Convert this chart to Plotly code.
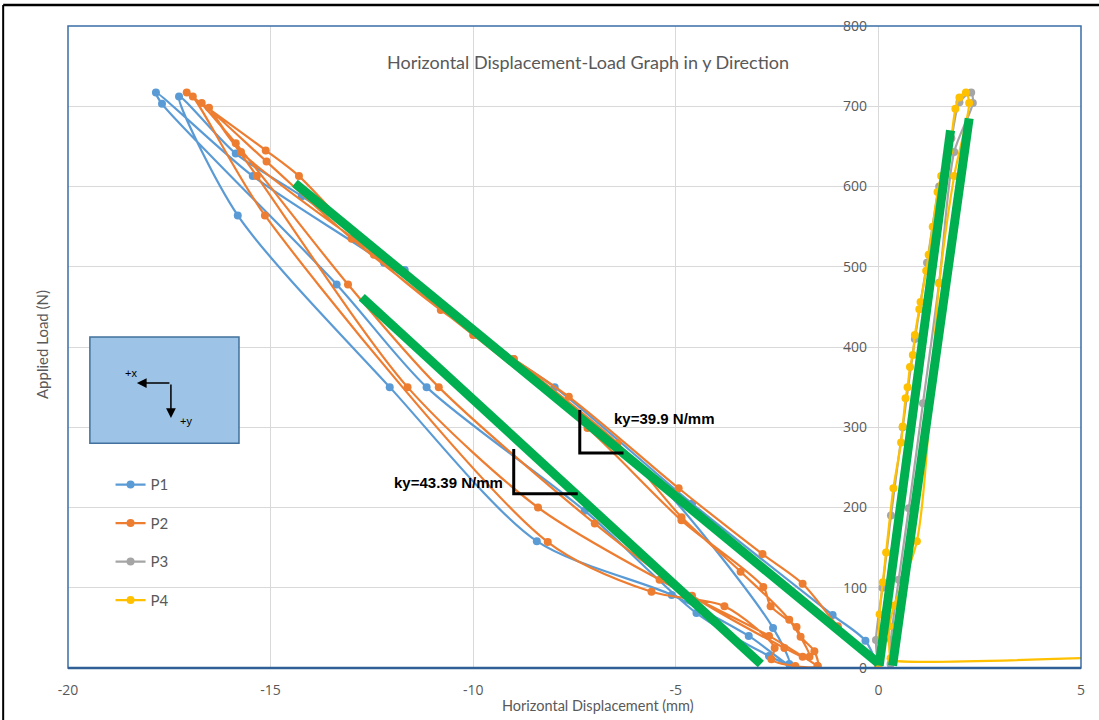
import plotly.graph_objects as go

# ---------------- data ----------------
p1_x = [0, -0.32, -1.13, -4.6, -7.99, -9.91, -11.69, -14.23, -15.86, -17.26,
        -15.81, -12.06, -8.43, -5.10, -3.2, -2.2,
        -2.6, -5.5, -9.0, -12.2, -15.44, -17.83, -17.68,
        -13.37, -11.15, -7.25, -4.49, -2.7, -2.05]
p1_y = [0, 34, 66, 205, 350, 415, 496, 588, 641, 712,
        564, 350, 158, 91, 40, 5,
        50, 235, 385, 505, 613, 717, 703,
        478, 350, 196, 68.5, 15, 0]

p2_x = [0, -1.0, -1.87, -2.86, -4.93, -7.64, -10.80, -12.45, -14.30, -15.12, -17.07,
        -16.92, -15.14, -8.16, -5.6, -3.8, -2.56, -2.64, -2.05,
        -1.50, -1.58, -1.92, -2.02, -2.66, -2.84, -4.86, -7.18, -10.0, -13.0, -15.10, -16.70,
        -15.86, -13.09, -10.85, -7.0, -4.6, -2.32, -1.87,
        -1.70, -2.2, -3.4, -4.86, -6.44, -9.0, -12.0, -15.73, -16.52,
        -15.34, -11.62, -8.4, -5.4, -2.7, -1.5]
p2_y = [0, 52, 105, 142, 224, 338, 446, 515, 613, 645, 717,
        712, 564, 157, 95, 77, 25, 11, 2.5,
        2.5, 21, 39, 51, 77, 101, 184, 299, 415, 535, 631, 704,
        654, 478, 350, 180, 90, 25, 14,
        14, 60, 120, 188, 280, 385, 500, 643, 698,
        613, 350, 200, 110, 40, 2.5]

p3_x = [0, -0.06, 0.1, 0.31, 0.6, 0.9, 1.2, 1.5, 1.8, 2.0, 2.29,
        2.33, 1.87, 1.5, 1.1, 0.75, 0.5, 0.31, 0.3]
p3_y = [0, 35, 100, 190, 300, 410, 505, 600, 660, 705, 717,
        704, 643, 480, 330, 199, 110, 35, 5]

p4_x = [0, 0.03, 0.11, 0.19, 0.37, 0.56, 0.60, 0.67, 0.72, 0.78, 0.85, 0.90,
        1.01, 1.04, 1.18, 1.24, 1.34, 1.46, 1.55, 1.75, 1.90, 2.00, 2.16,
        2.24, 1.87, 1.50, 0.95, 0.39, 0.27, 0.30, 0.35, 6.0]
p4_y = [0, 67, 107, 144, 224, 281, 301, 336, 350, 375, 390, 415,
        447, 456, 495, 515, 550, 593, 613, 644, 697, 711, 717,
        704, 613, 479, 158, 78, 52, 12, 9.5, 14]

# stiffness fit lines
g1_x = [-14.4, 0.0]
g1_y = [604, 6]
g2_x = [-12.75, -2.9]
g2_y = [462, 5]
g3_x = [0.02, 1.78]
g3_y = [3, 670]
g4_x = [0.35, 2.24]
g4_y = [3, 685]

series = [("P1", p1_x, p1_y, "#5B9BD5"),
          ("P2", p2_x, p2_y, "#ED7D31"),
          ("P3", p3_x, p3_y, "#A5A5A5"),
          ("P4", p4_x, p4_y, "#FFC000")]

x_ticks = [-20, -15, -10, -5, 0, 5]
x_tick_text = ["-20", "-15", "-10", "-5", "0", "5"]
y_ticks = [0, 100, 200, 300, 400, 500, 600, 700, 800]

GREEN = "#00B050"
GRAY = "#595959"
FONT = "Lato"

fig = go.Figure()
for i, (name, xs, ys, col) in enumerate(series):
    fig.add_trace(go.Scatter(
        x=xs, y=ys, name=name, mode="lines+markers",
        line=dict(color=col, width=2.2, shape="spline", smoothing=0.8),
        marker=dict(color=col, size=8),
        legendgroup=name, cliponaxis=True))

for gx, gy in [(g1_x, g1_y), (g2_x, g2_y), (g3_x, g3_y), (g4_x, g4_y)]:
    fig.add_trace(go.Scatter(x=gx, y=gy, mode="lines", showlegend=False,
                             line=dict(color=GREEN, width=9), hoverinfo="skip"))

fig.update_layout(
    width=1099, height=720,
    margin=dict(l=68, r=18, t=26, b=52, autoexpand=False),
    paper_bgcolor="white", plot_bgcolor="white",
    font=dict(family=FONT, color=GRAY),
    showlegend=True,
    legend=dict(x=0.042, y=0.311, xanchor="left", yanchor="top",
                font=dict(size=15, color=GRAY, family=FONT),
                tracegroupgap=16, itemwidth=30, bgcolor="rgba(0,0,0,0)"),
    xaxis=dict(range=[-20, 5], tickvals=x_ticks, ticktext=x_tick_text,
               showgrid=True, gridcolor="#D9D9D9", gridwidth=1,
               zeroline=False, showline=False, automargin=False,
               tickfont=dict(size=14, color=GRAY, family="Open Sans"),
               ticklabelstandoff=12),
    yaxis=dict(range=[0, 800], tickvals=y_ticks,
               showgrid=True, gridcolor="#D9D9D9", gridwidth=1,
               zeroline=False, showline=False, automargin=False,
               anchor="free", position=811 / 1013, side="left",
               tickfont=dict(size=14, color=GRAY, family="Open Sans"),
               ticklabelstandoff=12),
)

# plot frame
fig.add_shape(type="rect", xref="paper", yref="paper", x0=0, y0=0, x1=1, y1=1,
              line=dict(color="#3A6EA5", width=1.5), layer="above")
fig.add_shape(type="line", xref="paper", yref="paper", x0=0, y0=0, x1=1, y1=0,
              line=dict(color="#2F5F95", width=2.5), layer="above")
# outer black frame (top and left)
fig.add_shape(type="line", xref="paper", yref="paper", x0=-0.064, y0=1.0327, x1=1.02, y1=1.0327,
              line=dict(color="black", width=2.5), layer="above")
fig.add_shape(type="line", xref="paper", yref="paper", x0=-0.064, y0=1.0327, x1=-0.064, y1=-0.09,
              line=dict(color="black", width=2), layer="above")

# orientation box
fig.add_shape(type="rect", x0=-19.46, x1=-15.78, y0=280, y1=412.5,
              fillcolor="#9DC3E6", line=dict(color="#41719C", width=1.5), layer="above")
fig.add_annotation(x=-18.30, y=355, ax=34, ay=0, text="", showarrow=True,
                   arrowhead=2, arrowsize=1.3, arrowwidth=1.5, arrowcolor="black")
fig.add_annotation(x=-17.46, y=311.5, ax=0, ay=-35, text="", showarrow=True,
                   arrowhead=2, arrowsize=1.3, arrowwidth=1.5, arrowcolor="black")
fig.add_annotation(x=-18.45, y=368, text="+x", showarrow=False,
                   font=dict(size=11, color="black", family="Liberation Sans"))
fig.add_annotation(x=-17.1, y=308, text="+y", showarrow=False,
                   font=dict(size=11, color="black", family="Liberation Sans"))

# slope markers
fig.add_shape(type="path", path="M -7.37 321.5 L -7.37 268 L -6.29 268",
              line=dict(color="black", width=3), layer="above")
fig.add_shape(type="path", path="M -9.0 273 L -9.0 217 L -7.42 217",
              line=dict(color="black", width=3), layer="above")
fig.add_annotation(x=-5.3, y=311, text="<b>ky=39.9 N/mm</b>", showarrow=False,
                   font=dict(size=15, color="black", family="Liberation Sans"))
fig.add_annotation(x=-10.6, y=231, text="<b>ky=43.39 N/mm</b>", showarrow=False,
                   font=dict(size=15, color="black", family="Liberation Sans"))

# titles
fig.add_annotation(xref="paper", yref="paper", x=(588 - 68) / 1013, y=(668 - 62) / 642,
                   xanchor="center", yanchor="middle",
                   text="Horizontal Displacement-Load Graph in y Direction", showarrow=False,
                   font=dict(size=18, color=GRAY, family=FONT))
fig.add_annotation(xref="paper", yref="paper", x=(598 - 68) / 1013, y=(668 - 705) / 642,
                   xanchor="center", yanchor="middle",
                   text="Horizontal Displacement (mm)", showarrow=False,
                   font=dict(size=14.5, color=GRAY, family=FONT))
fig.add_annotation(xref="paper", yref="paper", x=(42 - 68) / 1013, y=(668 - 345) / 642,
                   xanchor="center", yanchor="middle",
                   text="Applied Load (N)", showarrow=False, textangle=-90,
                   font=dict(size=15, color=GRAY, family=FONT))

fig.write_html("out.html", post_script="document.body.style.margin='0';",
               config={"displayModeBar": False})
